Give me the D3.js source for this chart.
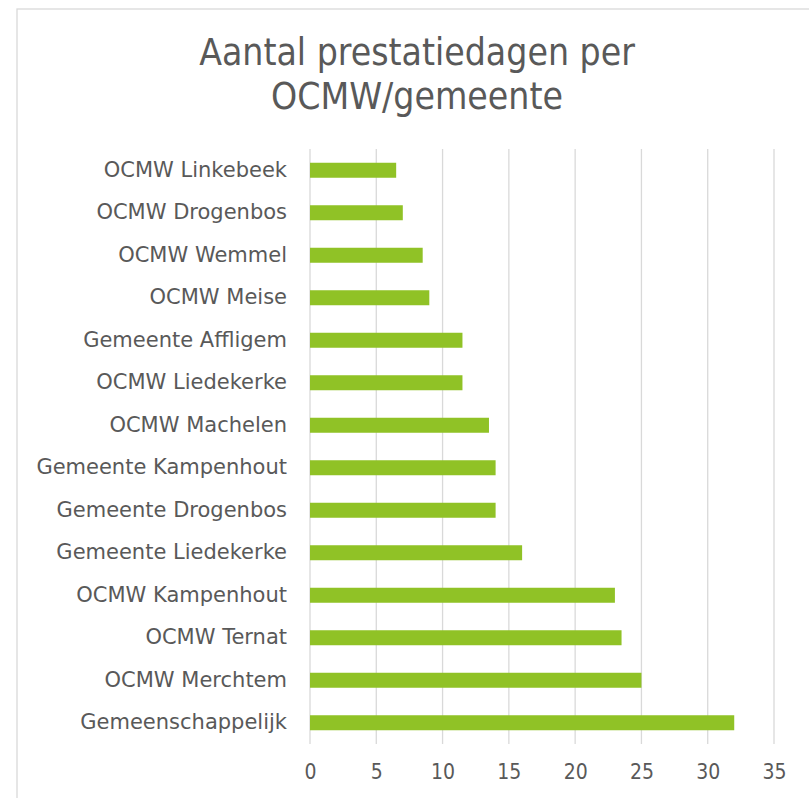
<!DOCTYPE html>
<html>
<head>
<meta charset="utf-8">
<script src="https://cdn.jsdelivr.net/npm/d3@7"></script>
<style>
  body { margin: 0; background: #fff; }
  text { font-family: "DejaVu Sans Condensed", "DejaVu Sans", sans-serif; fill: #595959; }
</style>
</head>
<body>
<script>
// categorieen van boven naar onder, zoals in de grafiek
var categories = ["OCMW Linkebeek", "OCMW Drogenbos", "OCMW Wemmel", "OCMW Meise",
  "Gemeente Affligem", "OCMW Liedekerke", "OCMW Machelen", "Gemeente Kampenhout",
  "Gemeente Drogenbos", "Gemeente Liedekerke", "OCMW Kampenhout", "OCMW Ternat",
  "OCMW Merchtem", "Gemeenschappelijk"];
var values = [6.5, 7, 8.5, 9, 11.5, 11.5, 13.5, 14, 14, 16, 23, 23.5, 25, 32];
var tickValues = [0, 5, 10, 15, 20, 25, 30, 35];
var titleLines = ["Aantal prestatiedagen per", "OCMW/gemeente"];

var width = 809, height = 798;

var svg = d3.select("body").append("svg")
    .attr("width", width)
    .attr("height", height);

// kader rond de grafiek
svg.append("rect")
    .attr("x", 17).attr("y", 9)
    .attr("width", 820).attr("height", 820)
    .attr("fill", "none")
    .attr("stroke", "#d9d9d9")
    .attr("stroke-width", 1.3);

var x = d3.scaleLinear()
    .domain([0, 35])
    .range([310, 774]);

var y = d3.scaleBand()
    .domain(categories)
    .range([149, 744])
    .paddingInner(0.647)
    .paddingOuter(0.3235);

// verticale rasterlijnen
svg.append("g")
    .selectAll("line")
    .data(tickValues)
    .enter().append("line")
    .attr("x1", function(d) { return x(d); })
    .attr("x2", function(d) { return x(d); })
    .attr("y1", 149)
    .attr("y2", 744)
    .attr("stroke", "#d9d9d9")
    .attr("stroke-width", 1.3);

// titel
svg.append("text")
    .attr("x", 417)
    .attr("text-anchor", "middle")
    .style("font-size", "37px")
    .selectAll("tspan")
    .data(titleLines)
    .enter().append("tspan")
    .attr("x", 417)
    .attr("y", function(d, i) { return 65 + i * 44; })
    .text(function(d) { return d; });

// balken
svg.selectAll(".bar")
    .data(values)
    .enter().append("rect")
    .attr("class", "bar")
    .attr("x", x(0))
    .attr("y", function(d, i) { return y(categories[i]); })
    .attr("width", function(d) { return x(d) - x(0); })
    .attr("height", y.bandwidth())
    .attr("fill", "#90c226");

// x as
var xAxis = svg.append("g")
    .attr("transform", "translate(0,744)")
    .call(d3.axisBottom(x).tickValues(tickValues).tickSize(0).tickPadding(20));
xAxis.attr("font-family", null);
xAxis.select(".domain").remove();
xAxis.selectAll("text")
    .style("font-size", "21px")
    .attr("fill", null);

// y as
var yAxis = svg.append("g")
    .attr("transform", "translate(310,0)")
    .call(d3.axisLeft(y).tickSize(0).tickPadding(23));
yAxis.attr("font-family", null);
yAxis.select(".domain").remove();
yAxis.selectAll("text")
    .style("font-size", "21px")
    .style("font-family", "'DejaVu Sans', sans-serif")
    .attr("fill", null);
</script>
</body>
</html>
